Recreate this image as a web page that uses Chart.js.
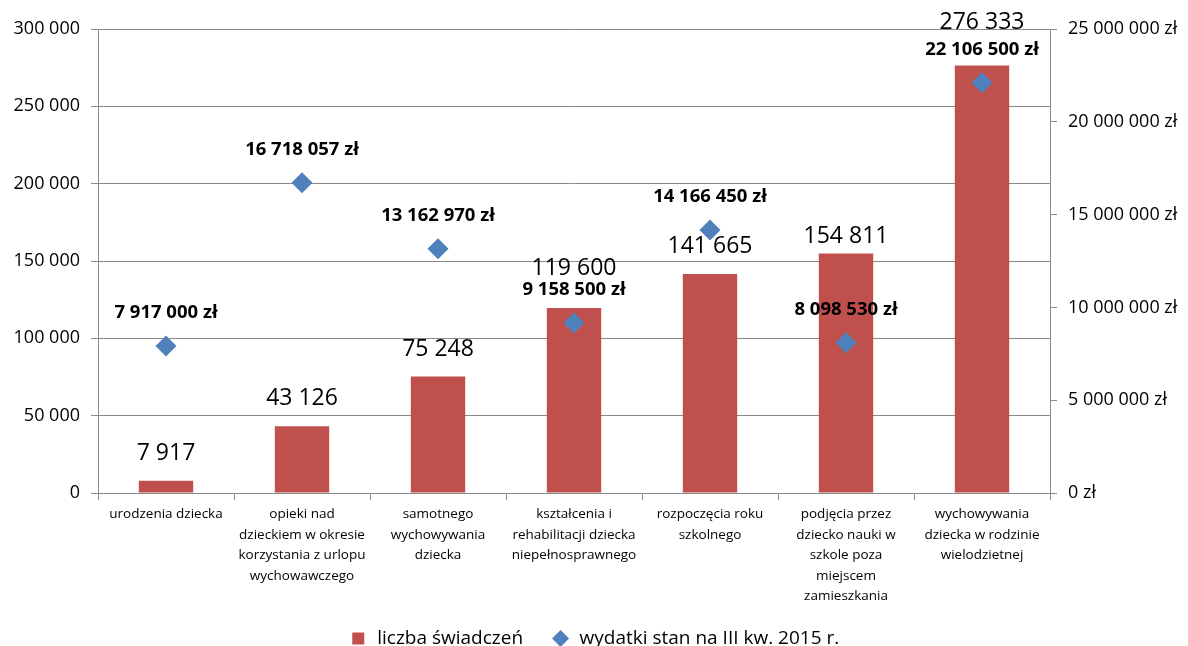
<!DOCTYPE html>
<html>
<head>
<meta charset="utf-8">
<script src="https://cdn.jsdelivr.net/npm/chart.js@4.4.1/dist/chart.umd.min.js"></script>
<style>
  html, body { margin: 0; padding: 0; background: #fff; }
  #wrap { width: 1188px; height: 646px; }
</style>
</head>
<body>
<div id="wrap"><canvas id="chart"></canvas></div>
<script>
// Data
var categories = [
	[ "urodzenia dziecka" ],
	[ "opieki nad", "dzieckiem w okresie", "korzystania z urlopu", "wychowawczego" ],
	[ "samotnego", "wychowywania", "dziecka" ],
	[ "kształcenia i", "rehabilitacji dziecka", "niepełnosprawnego" ],
	[ "rozpoczęcia roku", "szkolnego" ],
	[ "podjęcia przez", "dziecko nauki w", "szkole poza", "miejscem", "zamieszkania" ],
	[ "wychowywania", "dziecka w rodzinie", "wielodzietnej" ]
];
var liczbaSwiadczen = [ 7917, 43126, 75248, 119600, 141665, 154811, 276333 ];
var wydatki = [ 7917000, 16718057, 13162970, 9158500, 14166450, 8098530, 22106500 ];
var leftAxis = { min: 0, max: 300000, step: 50000 };
var rightAxis = { min: 0, max: 25000000, step: 5000000 };
var seriesNames = [ "liczba świadczeń", "wydatki stan na III kw. 2015 r." ];

var FONT = "'Open Sans', 'Noto Sans', sans-serif",
	GRID = "#8a8a8a";

// 1234567 -> "1 234 567"
function fmt( v ) {
	return String( Math.round( v ) ).replace( /\B(?=(\d{3})+(?!\d))/g, " " );
}

// Draws the value labels above bars and diamonds
var valueLabels = {
	id: "valueLabels",
	afterDatasetsDraw: function( chart, args, opts ) {
		var ctx = chart.ctx;
		ctx.save();
		ctx.textAlign = "center";
		ctx.textBaseline = "middle";
		ctx.fillStyle = "#000";

		ctx.font = "23px " + FONT;
		chart.getDatasetMeta( 0 ).data.forEach( function( bar, i ) {
			ctx.fillText( fmt( liczbaSwiadczen[ i ] ), bar.x, bar.y - opts.barOffset + ( opts.barNudge[ i ] || 0 ) );
		} );

		ctx.font = "bold 18.5px " + FONT;
		chart.getDatasetMeta( 1 ).data.forEach( function( pt, i ) {
			ctx.fillText( fmt( wydatki[ i ] ) + " zł", pt.x, pt.y - opts.pointOffset );
		} );
		ctx.restore();
	}
};

var chart = new Chart( document.getElementById( "chart" ), {
	data: {
		labels: categories,
		datasets: [ {
			type: "bar",
			label: seriesNames[ 0 ],
			data: liczbaSwiadczen,
			yAxisID: "y",
			backgroundColor: "#C0504D",
			pointStyle: "rect",
			categoryPercentage: 1,
			barPercentage: 0.4,
			order: 2
		}, {
			type: "line",
			label: seriesNames[ 1 ],
			data: wydatki,
			yAxisID: "y1",
			showLine: false,
			pointStyle: "rectRot",
			pointRadius: 10.5,
			pointHoverRadius: 10.5,
			pointBorderWidth: 0,
			backgroundColor: "#4F81BD",
			borderColor: "#4F81BD",
			pointBackgroundColor: "#4F81BD",
			order: 1
		} ]
	},
	options: {
		responsive: true,
		maintainAspectRatio: false,
		animation: false,
		layout: { padding: { top: 29, left: 0, right: 0, bottom: -12 } },
		plugins: {
			tooltip: { enabled: false },
			legend: {
				position: "bottom",
				labels: {
					usePointStyle: true,
					boxHeight: 12,
					padding: 28,
					color: "#000",
					font: { family: FONT, size: 19 },
					sort: function( a, b ) { return a.datasetIndex - b.datasetIndex; }
				}
			},
			valueLabels: {
				barOffset: 27.5,
				barNudge: [ 0, 0, 0, -12.5, 0, 10.5, -16 ],
				pointOffset: 33
			}
		},
		scales: {
			x: {
				grid: { offset: true, drawOnChartArea: false, tickLength: 7, color: GRID },
				border: { color: GRID },
				ticks: {
					autoSkip: false,
					maxRotation: 0,
					padding: 4,
					color: "#000",
					font: { family: FONT, size: 13.5, lineHeight: 1.52 }
				},
				afterFit: function( s ) { s.height = 108; }
			},
			y: {
				position: "left",
				min: leftAxis.min,
				max: leftAxis.max,
				grid: { tickLength: 7, color: GRID },
				border: { color: GRID },
				ticks: {
					stepSize: leftAxis.step,
					padding: 11,
					color: "#000",
					font: { family: FONT, size: 18 },
					callback: function( v ) { return fmt( v ); }
				},
				afterFit: function( s ) { s.width = 98; }
			},
			y1: {
				position: "right",
				min: rightAxis.min,
				max: rightAxis.max,
				grid: { drawOnChartArea: false, tickLength: 7, color: GRID },
				border: { color: GRID },
				ticks: {
					stepSize: rightAxis.step,
					padding: 11,
					color: "#000",
					font: { family: FONT, size: 18 },
					callback: function( v ) { return fmt( v ) + " zł"; }
				},
				afterFit: function( s ) { s.width = 138; }
			}
		}
	},
	plugins: [ valueLabels ]
} );
</script>
</body>
</html>
